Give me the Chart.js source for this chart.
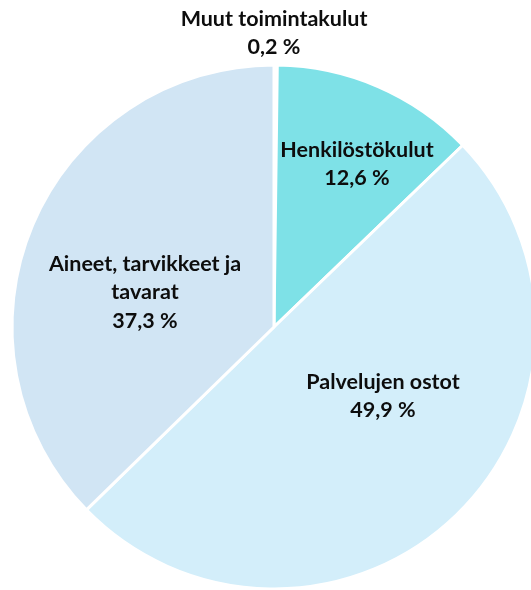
<!DOCTYPE html>
<html lang="fi">
  <head>
    <meta charset="UTF-8" />
    <title>Toimintakulut</title>
    <script src="https://cdn.jsdelivr.net/npm/chart.js@4.4.0/dist/chart.umd.min.js"></script>
    <style>
      html, body { margin: 0; padding: 0; background: #fff; }
      .chart-view { width: 531px; height: 590px; }
    </style>
  </head>
  <body>
    <div class="chart-view">
      <canvas id="chart"></canvas>
    </div>

    <script>
      //data
      const categories = ['Muut toimintakulut', 'Henkilöstökulut', 'Palvelujen ostot', 'Aineet, tarvikkeet ja tavarat'];
      const shares = [0.2, 12.6, 49.9, 37.3];

      const sliceColors = ['#ffffff', '#7ee1e7', '#d3eefa', '#d1e5f4'];
      // label anchor (centre of the first text line) for each slice
      const labelAnchors = [[274, 19], [357, 150], [383, 382], [145, 264]];

      function wrapText(ctx, text, maxWidth) {
        const words = text.split(' ');
        const lines = [];
        let line = '';
        words.forEach((w) => {
          const test = line ? line + ' ' + w : w;
          if (ctx.measureText(test).width > maxWidth && line) {
            lines.push(line);
            line = w;
          } else {
            line = test;
          }
        });
        lines.push(line);
        return lines;
      }

      const sliceLabels = {
        id: 'sliceLabels',
        afterDraw(chart) {
          const ctx = chart.ctx;
          const labels = chart.data.labels;
          const values = chart.data.datasets[0].data;
          ctx.save();
          ctx.font = 'bold 21.5px Lato, "Open Sans", sans-serif';
          ctx.fillStyle = '#0d0d0d';
          ctx.textAlign = 'center';
          ctx.textBaseline = 'middle';
          labels.forEach((label, i) => {
            const lines = wrapText(ctx, label, 240);
            lines.push(values[i].toFixed(1).replace('.', ',') + ' %');
            const [x, y] = labelAnchors[i];
            lines.forEach((l, j) => ctx.fillText(l, x, y + j * 28.5));
          });
          ctx.restore();
        }
      };

      //config
      const config = {
        type: 'pie',
        data: {
          labels: categories,
          datasets: [
            {
              data: shares,
              backgroundColor: sliceColors,
              borderColor: '#ffffff',
              borderWidth: 3,
              clip: false
            }
          ]
        },
        options: {
          responsive: true,
          maintainAspectRatio: false,
          animation: false,
          radius: 262,
          layout: { padding: { left: 17, right: 0, top: 64, bottom: 0 } },
          plugins: {
            legend: { display: false },
            tooltip: { enabled: false }
          }
        },
        plugins: [sliceLabels]
      };

      //init
      const ctx = document.getElementById('chart');
      const chart = new Chart(ctx, config);
    </script>
  </body>
</html>
